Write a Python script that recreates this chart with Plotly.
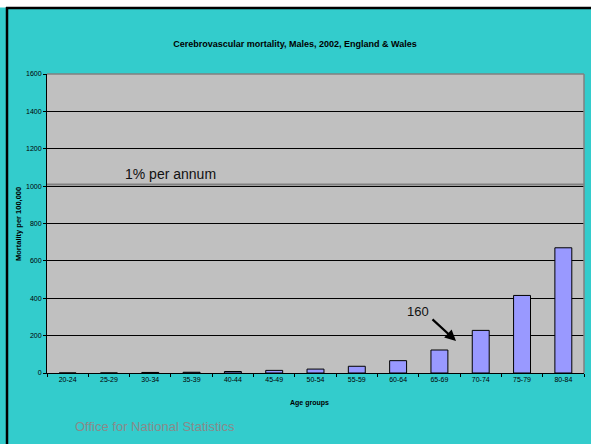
import plotly.graph_objects as go

age_groups = ["20-24", "25-29", "30-34", "35-39", "40-44", "45-49", "50-54",
              "55-59", "60-64", "65-69", "70-74", "75-79", "80-84"]
mortality = [0, 0, 3, 4, 8, 14, 21, 36, 66, 123, 228, 415, 670]
y_ticks = [0, 200, 400, 600, 800, 1000, 1200, 1400, 1600]

W, H = 591, 444
L, R, T, B = 47, 7, 74, 71
FONT = "Liberation Sans, Arial, sans-serif"

def px_x(px):
    return (px - L) / (W - L - R)

def px_y(py):
    return (H - B - py) / (H - T - B)

fig = go.Figure()
fig.add_trace(go.Bar(
    x=age_groups, y=mortality,
    marker=dict(color="#9999FF", line=dict(color="black", width=1)),
    width=0.41,
))

shapes = [
    dict(type="rect", xref="paper", yref="paper", x0=px_x(0), x1=px_x(W),
         y0=px_y(0), y1=px_y(7.5), fillcolor="white", line=dict(width=0), layer="above"),
    dict(type="line", xref="paper", yref="paper", x0=px_x(6), x1=px_x(W),
         y0=px_y(8), y1=px_y(8), line=dict(color="black", width=2.5)),
    dict(type="line", xref="paper", yref="paper", x0=px_x(7), x1=px_x(7),
         y0=px_y(7), y1=px_y(H), line=dict(color="black", width=2.5)),
    dict(type="line", xref="paper", yref="paper", x0=0, x1=1, y0=1, y1=1,
         line=dict(color="#808080", width=1.5)),
    dict(type="line", xref="paper", yref="paper", x0=1, x1=1, y0=0, y1=1,
         line=dict(color="#808080", width=1.5)),
    dict(type="line", xref="paper", yref="y", x0=0, x1=1, y0=1009, y1=1009,
         line=dict(color="#808080", width=2)),
]

annotations = [
    dict(text="1% per annum", xref="paper", yref="paper", x=px_x(170), y=px_y(174),
         showarrow=False, font=dict(family=FONT, size=14, color="#111111"),
         xanchor="center", yanchor="middle"),
    dict(text="160", xref="paper", yref="paper", x=px_x(418), y=px_y(311),
         showarrow=False, font=dict(family=FONT, size=13, color="#111111"),
         xanchor="center", yanchor="middle"),
    dict(text="", xref="paper", yref="paper", x=px_x(456), y=px_y(341),
         ax=-25, ay=-23,
         showarrow=True, arrowhead=2, arrowsize=1, arrowwidth=2.2, arrowcolor="black"),
    dict(text="<b>Age groups</b>", xref="paper", yref="paper", x=px_x(309), y=px_y(403),
         showarrow=False, font=dict(family=FONT, size=7, color="black"),
         xanchor="center", yanchor="middle"),
    dict(text="<b>Mortality per 100,000</b>", xref="paper", yref="paper", x=px_x(18), y=px_y(224),
         showarrow=False, textangle=-90, font=dict(family=FONT, size=7.5, color="black"),
         xanchor="center", yanchor="middle"),
    dict(text="Office for National Statistics", xref="paper", yref="paper", x=px_x(73), y=px_y(426),
         showarrow=False, font=dict(family=FONT, size=13, color="#8a8a8a"),
         xanchor="left", yanchor="middle"),
]

fig.update_layout(
    width=W, height=H,
    margin=dict(l=L, r=R, t=T, b=B),
    paper_bgcolor="#33CCCC",
    plot_bgcolor="#C0C0C0",
    bargap=0.59,
    showlegend=False,
    title=dict(text="<b>Cerebrovascular mortality, Males, 2002, England & Wales</b>",
               x=295 / W, xref="container", xanchor="center",
               y=1 - 44 / H, yref="container", yanchor="middle",
               font=dict(family=FONT, size=9, color="black")),
    xaxis=dict(
        type="category", tickfont=dict(family=FONT, size=7, color="black"),
        showline=True, linecolor="black", linewidth=1,
        ticks="outside", tickson="boundaries", ticklen=3, tickcolor="black",
        showgrid=False, zeroline=False,
    ),
    yaxis=dict(
        range=[0, 1600], tickvals=y_ticks,
        tickfont=dict(family=FONT, size=7, color="black"),
        showline=True, linecolor="black", linewidth=1,
        ticks="outside", ticklen=3, tickcolor="black",
        showgrid=True, gridcolor="black", gridwidth=1,
        zeroline=False,
    ),
    shapes=shapes,
    annotations=annotations,
)

fig.write_html("out.html")
